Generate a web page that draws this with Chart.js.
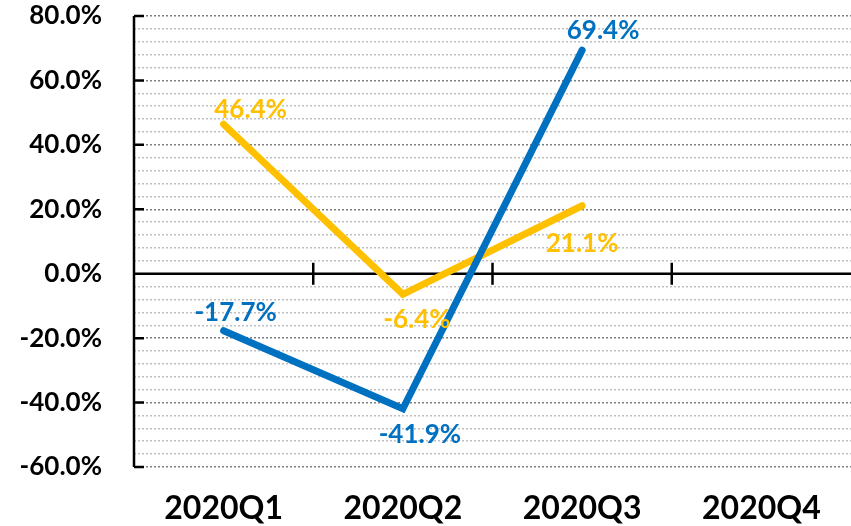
<!DOCTYPE html>
<html>
<head>
<meta charset="utf-8">
<script src="https://cdn.jsdelivr.net/npm/chart.js@4/dist/chart.umd.min.js"></script>
<style>
  html, body { margin: 0; padding: 0; background: #fff; }
  #wrap { width: 851px; height: 526px; position: relative; }
</style>
</head>
<body>
<div id="wrap"><canvas id="growthChart"></canvas></div>
<script>
const quarters = ['2020Q1', '2020Q2', '2020Q3', '2020Q4'];
const blueSeries = [-17.7, -41.9, 69.4, null];
const yellowSeries = [46.4, -6.4, 21.1, null];
const yMin = -60, yMax = 80, majorStep = 20, minorStep = 4;

// where each value label sits relative to its point (px)
const blueLabelShift = [[12, -18], [17, 26], [21, -20]];
const yellowLabelShift = [[27, -15], [14, 25], [0, 38]];

const BLUE = '#0070C0';
const YELLOW = '#FFC000';
const FONT = 'Lato, "Open Sans", sans-serif';

function pct(v) { return v.toFixed(1) + '%'; }

// zero line with category ticks, left axis with major ticks
const axisLines = {
    id: 'axisLines',
    beforeDatasetsDraw(chart) {
        const { ctx, chartArea, scales } = chart;
        const x = scales.x, y = scales.y;
        const zeroY = y.getPixelForValue(0);
        ctx.save();
        ctx.strokeStyle = '#000';
        ctx.lineWidth = 2.5;
        ctx.beginPath();
        ctx.moveTo(chartArea.left, zeroY);
        ctx.lineTo(chartArea.right, zeroY);
        for (let i = 1; i < quarters.length; i++) {
            const bx = (x.getPixelForValue(i - 1) + x.getPixelForValue(i)) / 2;
            ctx.moveTo(bx, zeroY - 11);
            ctx.lineTo(bx, zeroY + 11);
        }
        ctx.moveTo(chartArea.left, chartArea.top);
        ctx.lineTo(chartArea.left, chartArea.bottom);
        for (let v = yMin; v <= yMax; v += majorStep) {
            const py = y.getPixelForValue(v);
            ctx.moveTo(chartArea.left, py);
            ctx.lineTo(chartArea.left + 10, py);
        }
        ctx.stroke();
        ctx.restore();
    }
};

const valueLabels = {
    id: 'valueLabels',
    afterDatasetsDraw(chart) {
        const { ctx } = chart;
        const shifts = [blueLabelShift, yellowLabelShift];
        ctx.save();
        ctx.font = 'bold 26px ' + FONT;
        ctx.textAlign = 'center';
        ctx.textBaseline = 'middle';
        chart.data.datasets.forEach((ds, di) => {
            const meta = chart.getDatasetMeta(di);
            ctx.fillStyle = ds.borderColor;
            ds.data.forEach((v, i) => {
                if (v === null) return;
                const pt = meta.data[i];
                const [dx, dy] = shifts[di][i];
                ctx.fillText(pct(v), pt.x + dx, pt.y + dy);
            });
        });
        ctx.restore();
    }
};

new Chart(document.getElementById('growthChart'), {
    type: 'line',
    data: {
        labels: quarters,
        datasets: [{
            label: 'blue',
            data: blueSeries,
            borderColor: BLUE,
            borderWidth: 7,
            borderCapStyle: 'round',
            borderJoinStyle: 'miter',
            pointRadius: 0,
            tension: 0
        }, {
            label: 'yellow',
            data: yellowSeries,
            borderColor: YELLOW,
            borderWidth: 7,
            borderCapStyle: 'round',
            borderJoinStyle: 'miter',
            pointRadius: 0,
            tension: 0
        }]
    },
    options: {
        responsive: true,
        maintainAspectRatio: false,
        animation: false,
        layout: { padding: { top: 16, right: 0, left: 0, bottom: 0 } },
        plugins: {
            legend: { display: false },
            tooltip: { enabled: false }
        },
        scales: {
            x: {
                offset: true,
                grid: { display: false, drawTicks: false },
                border: { display: false },
                ticks: {
                    color: '#000',
                    font: { family: FONT, size: 32, weight: 'bold' },
                    padding: 22
                },
                afterFit(scale) { scale.height = 59; }
            },
            y: {
                min: yMin,
                max: yMax,
                grid: {
                    drawTicks: false,
                    lineWidth: 1.5,
                    color: ctx => (ctx.tick && ctx.tick.value % majorStep === 0) ? '#7f7f7f' : '#bfbfbf'
                },
                border: { display: false, dash: [2, 2] },
                ticks: {
                    stepSize: minorStep,
                    autoSkip: false,
                    color: '#000',
                    font: { family: FONT, size: 26, weight: 'bold' },
                    padding: 32,
                    callback: v => (v % majorStep === 0 ? pct(v) : '')
                },
                afterFit(scale) {
                    scale.width = 134;
                    // tick padding is horizontal here, keep it out of the top inset
                    scale.paddingTop = 0;
                    scale.paddingBottom = 0;
                }
            }
        }
    },
    plugins: [axisLines, valueLabels]
});
</script>
</body>
</html>
